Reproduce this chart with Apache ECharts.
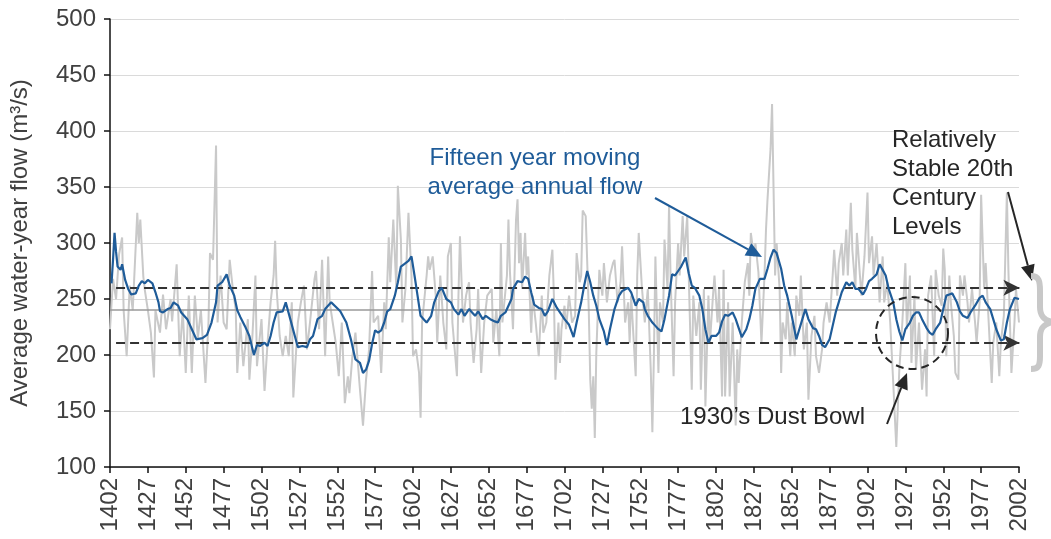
<!DOCTYPE html>
<html>
<head>
<meta charset="utf-8">
<script src="https://cdn.jsdelivr.net/npm/echarts@6/dist/echarts.min.js"></script>
<style>
  html, body { margin: 0; padding: 0; background: #fff; }
  #main { width: 1051px; height: 539px; }
</style>
</head>
<body>
<div id="main"></div>
<script>
// reconstructed annual water-year flow, [year, m3/s]
const annualFlow = [
  [1402, 223], [1404, 268], [1406, 250], [1408, 290], [1410, 305], [1411, 240], [1413, 199], [1415, 262],
  [1417, 240], [1420, 327], [1421, 300], [1422, 321], [1424, 270], [1425, 258], [1427, 240], [1429, 220],
  [1431, 180], [1432, 240], [1435, 220], [1437, 254], [1439, 223], [1442, 250], [1443, 230], [1446, 281],
  [1448, 199], [1450, 240], [1452, 184], [1454, 253], [1456, 184], [1458, 253], [1460, 215], [1462, 240],
  [1465, 175], [1467, 229], [1468, 291], [1470, 285], [1472, 387], [1473, 229], [1475, 271], [1477, 229],
  [1479, 223], [1481, 285], [1483, 260], [1485, 240], [1486, 184], [1488, 229], [1490, 190], [1493, 232],
  [1494, 178], [1496, 217], [1498, 271], [1499, 190], [1502, 232], [1504, 168], [1506, 211], [1508, 247],
  [1510, 271], [1511, 302], [1512, 259], [1514, 217], [1516, 199], [1518, 217], [1520, 199], [1522, 247],
  [1523, 162], [1526, 229], [1528, 247], [1530, 262], [1532, 205], [1534, 229], [1537, 268], [1538, 275],
  [1540, 223], [1542, 285], [1544, 199], [1546, 288], [1547, 247], [1549, 229], [1551, 211], [1553, 181],
  [1555, 229], [1557, 157], [1559, 181], [1560, 166], [1562, 199], [1564, 220], [1567, 169], [1569, 137],
  [1571, 178], [1573, 205], [1575, 275], [1576, 229], [1579, 235], [1581, 184], [1583, 247], [1584, 223],
  [1586, 305], [1587, 265], [1589, 321], [1591, 259], [1592, 351], [1594, 303], [1595, 229], [1597, 259],
  [1599, 327], [1601, 271], [1602, 199], [1604, 205], [1606, 184], [1607, 144], [1608, 229], [1611, 271],
  [1612, 288], [1613, 276], [1615, 288], [1617, 253], [1618, 211], [1620, 271], [1622, 229], [1624, 205],
  [1625, 288], [1627, 300], [1628, 229], [1631, 181], [1632, 253], [1633, 306], [1635, 229], [1637, 253],
  [1639, 265], [1640, 229], [1642, 193], [1644, 223], [1645, 259], [1647, 184], [1649, 229], [1651, 253],
  [1654, 259], [1655, 211], [1657, 241], [1659, 199], [1660, 300], [1661, 229], [1664, 271], [1665, 321],
  [1666, 274], [1668, 223], [1670, 321], [1671, 339], [1672, 282], [1673, 309], [1674, 259], [1676, 309],
  [1677, 271], [1678, 288], [1680, 220], [1681, 253], [1683, 229], [1685, 199], [1687, 253], [1688, 220],
  [1690, 229], [1692, 271], [1694, 294], [1695, 253], [1696, 178], [1698, 229], [1699, 193], [1700, 223],
  [1702, 244], [1703, 223], [1705, 253], [1707, 229], [1709, 235], [1710, 291], [1712, 265], [1713, 271],
  [1714, 329], [1716, 324], [1718, 241], [1719, 178], [1720, 152], [1721, 181], [1722, 126], [1723, 202],
  [1725, 276], [1727, 253], [1728, 282], [1730, 247], [1732, 271], [1734, 282], [1735, 285], [1737, 247],
  [1739, 265], [1740, 297], [1742, 229], [1744, 247], [1745, 211], [1746, 253], [1749, 181], [1750, 271],
  [1751, 309], [1753, 262], [1755, 229], [1757, 259], [1759, 184], [1760, 131], [1761, 199], [1762, 288],
  [1764, 184], [1765, 247], [1767, 229], [1768, 303], [1770, 259], [1771, 333], [1772, 271], [1774, 181],
  [1775, 247], [1777, 300], [1778, 271], [1780, 324], [1781, 288], [1783, 324], [1784, 271], [1786, 169],
  [1787, 253], [1789, 217], [1791, 247], [1792, 169], [1794, 259], [1795, 154], [1797, 253], [1798, 211],
  [1800, 253], [1801, 271], [1803, 229], [1804, 259], [1806, 163], [1807, 276], [1808, 163], [1810, 247],
  [1811, 163], [1813, 229], [1815, 137], [1816, 205], [1817, 175], [1819, 229], [1821, 265], [1823, 282],
  [1824, 253], [1825, 309], [1827, 288], [1828, 300], [1830, 274], [1832, 211], [1834, 271], [1835, 312],
  [1836, 339], [1838, 384], [1839, 424], [1840, 348], [1841, 271], [1842, 300], [1844, 259], [1845, 184],
  [1846, 229], [1848, 214], [1849, 247], [1851, 199], [1852, 229], [1854, 199], [1855, 253], [1857, 235],
  [1858, 271], [1860, 205], [1862, 229], [1863, 160], [1865, 217], [1867, 235], [1868, 199], [1870, 184],
  [1872, 205], [1873, 229], [1875, 247], [1877, 229], [1879, 271], [1880, 294], [1882, 253], [1883, 282],
  [1885, 300], [1886, 271], [1888, 312], [1889, 271], [1891, 336], [1892, 294], [1894, 259], [1895, 309],
  [1897, 271], [1898, 253], [1900, 288], [1902, 345], [1903, 282], [1905, 306], [1906, 271], [1908, 300],
  [1909, 276], [1910, 247], [1912, 288], [1913, 247], [1915, 265], [1917, 229], [1919, 175], [1920, 146],
  [1921, 118], [1923, 187], [1925, 229], [1927, 282], [1928, 223], [1930, 271], [1931, 193], [1933, 253],
  [1934, 187], [1936, 229], [1938, 169], [1940, 205], [1941, 163], [1942, 253], [1944, 271], [1946, 199],
  [1947, 276], [1949, 253], [1951, 244], [1952, 295], [1953, 276], [1954, 199], [1956, 271], [1957, 247],
  [1959, 217], [1960, 184], [1962, 178], [1963, 271], [1965, 253], [1966, 271], [1968, 247], [1969, 229],
  [1971, 259], [1973, 229], [1974, 211], [1976, 247], [1977, 343], [1979, 259], [1980, 282], [1982, 229],
  [1984, 175], [1985, 211], [1987, 229], [1989, 181], [1990, 211], [1992, 235], [1994, 345], [1995, 276],
  [1997, 184], [1999, 229], [2000, 259], [2002, 229]
];

// fifteen year moving average, [year, m3/s]
const movingAvg = [
  [1403, 264], [1404, 285], [1405, 309], [1406, 292], [1407, 279], [1409, 276], [1410, 281], [1412, 267],
  [1414, 259], [1416, 254], [1419, 255], [1421, 262], [1423, 266], [1425, 264], [1427, 267], [1430, 264],
  [1432, 256], [1434, 247], [1435, 239], [1437, 238], [1440, 241], [1442, 242], [1444, 247], [1447, 244],
  [1449, 238], [1453, 232], [1456, 223], [1459, 214], [1463, 215], [1466, 218], [1469, 229], [1472, 247],
  [1473, 262], [1476, 265], [1479, 272], [1481, 262], [1484, 253], [1486, 240], [1488, 234], [1491, 226],
  [1494, 217], [1497, 200], [1499, 209], [1501, 208], [1504, 211], [1506, 208], [1508, 217], [1510, 229],
  [1512, 238], [1516, 239], [1518, 247], [1521, 232], [1524, 217], [1526, 207], [1529, 208], [1532, 207],
  [1534, 214], [1536, 217], [1539, 232], [1542, 235], [1544, 241], [1548, 247], [1551, 243], [1554, 239],
  [1558, 229], [1561, 214], [1564, 196], [1567, 193], [1569, 184], [1571, 187], [1573, 195], [1575, 210],
  [1577, 222], [1579, 220], [1581, 222], [1583, 229], [1585, 239], [1587, 241], [1590, 253], [1592, 265],
  [1594, 279], [1596, 281], [1599, 284], [1601, 288], [1603, 271], [1605, 253], [1607, 235], [1609, 232],
  [1611, 229], [1614, 235], [1616, 247], [1619, 257], [1621, 260], [1624, 250], [1627, 247], [1629, 241],
  [1632, 236], [1634, 241], [1636, 235], [1639, 241], [1641, 238], [1643, 235], [1645, 239], [1648, 232],
  [1650, 235], [1653, 232], [1656, 230], [1658, 229], [1660, 235], [1663, 238], [1665, 244], [1667, 250],
  [1668, 259], [1671, 266], [1674, 265], [1676, 270], [1678, 268], [1680, 256], [1682, 245], [1685, 242],
  [1687, 241], [1689, 235], [1691, 239], [1694, 250], [1697, 242], [1699, 238], [1702, 232], [1705, 227],
  [1708, 216], [1710, 229], [1713, 247], [1715, 262], [1717, 275], [1719, 265], [1721, 253], [1723, 244],
  [1725, 232], [1728, 221], [1730, 209], [1732, 223], [1735, 241], [1738, 253], [1740, 257], [1744, 260],
  [1746, 256], [1749, 244], [1751, 250], [1754, 247], [1755, 241], [1757, 235], [1760, 229], [1762, 226],
  [1764, 223], [1766, 221], [1768, 232], [1771, 253], [1773, 272], [1775, 271], [1777, 275], [1779, 279],
  [1782, 287], [1784, 273], [1786, 262], [1788, 260], [1791, 253], [1793, 241], [1795, 223], [1797, 211],
  [1799, 217], [1802, 217], [1804, 220], [1806, 230], [1808, 236], [1810, 235], [1813, 238], [1815, 232],
  [1817, 224], [1819, 216], [1822, 223], [1824, 232], [1826, 244], [1828, 259], [1831, 268], [1834, 268],
  [1836, 277], [1838, 287], [1840, 294], [1842, 291], [1845, 277], [1847, 262], [1849, 253], [1852, 235],
  [1855, 214], [1857, 223], [1859, 232], [1861, 241], [1863, 232], [1866, 224], [1868, 223], [1870, 217],
  [1872, 209], [1874, 207], [1877, 214], [1879, 226], [1881, 238], [1883, 247], [1885, 256], [1888, 265],
  [1890, 262], [1892, 265], [1894, 259], [1896, 259], [1899, 254], [1901, 259], [1903, 266], [1905, 268],
  [1908, 272], [1910, 281], [1912, 276], [1914, 271], [1916, 259], [1919, 247], [1921, 232], [1923, 221],
  [1925, 213], [1927, 223], [1930, 229], [1932, 235], [1934, 238], [1936, 238], [1938, 232], [1941, 224],
  [1943, 220], [1945, 218], [1947, 223], [1950, 229], [1952, 241], [1954, 253], [1956, 254], [1958, 255],
  [1961, 247], [1963, 239], [1965, 235], [1968, 233], [1970, 238], [1973, 244], [1976, 251], [1978, 253],
  [1980, 247], [1983, 241], [1985, 232], [1987, 223], [1990, 213], [1992, 214], [1994, 229], [1996, 241],
  [1999, 251], [2002, 250]
];

const startYear = 1402
const endYear = 2002
const yTicks = [100, 150, 200, 250, 300, 350, 400, 450, 500]
const meanFlow = 240
const upperLevel = 260
const lowerLevel = 211

const FONT = "'Liberation Sans', Arial, sans-serif"
const BLUE = '#1f5c99'
const INK = '#262626'

// arrow = line + filled head, pixel positions for annotations
function arrow(x1, y1, x2, y2, color) {
  const a = Math.atan2(y2 - y1, x2 - x1)
  const L = 16, W = 7
  const bx = x2 - L * Math.cos(a), by = y2 - L * Math.sin(a)
  return [
    { type: 'line', shape: { x1: x1, y1: y1, x2: bx, y2: by }, style: { stroke: color, lineWidth: 2 }, z: 10 },
    {
      type: 'polygon',
      shape: { points: [[x2, y2], [bx + W * Math.sin(a), by - W * Math.cos(a)], [bx - W * Math.sin(a), by + W * Math.cos(a)]] },
      style: { fill: color },
      z: 10
    }
  ]
}

// curly brace on the right, built from curves
function brace(color) {
  const s = { fill: 'none', stroke: color, lineWidth: 6 }
  const segs = [
    { type: 'bezierCurve', shape: { x1: 1031, y1: 276, cpx1: 1039, cpy1: 276, cpx2: 1040, cpy2: 281, x2: 1040, y2: 291 } },
    { type: 'line', shape: { x1: 1040, y1: 291, x2: 1040, y2: 307 } },
    { type: 'bezierCurve', shape: { x1: 1040, y1: 307, cpx1: 1040, cpy1: 316, cpx2: 1044, cpy2: 320, x2: 1052, y2: 322 } },
    { type: 'bezierCurve', shape: { x1: 1052, y1: 322, cpx1: 1044, cpy1: 324, cpx2: 1040, cpy2: 328, x2: 1040, y2: 337 } },
    { type: 'line', shape: { x1: 1040, y1: 337, x2: 1040, y2: 356 } },
    { type: 'bezierCurve', shape: { x1: 1040, y1: 356, cpx1: 1040, cpy1: 365, cpx2: 1039, cpy2: 369, x2: 1031, y2: 369 } }
  ]
  return segs.map((g) => Object.assign(g, { style: s, z: 10 }))
}

const toX = (p) => [p[0] - startYear, p[1]]

const chart = echarts.init(document.getElementById('main'))

const option = {
  animation: false,
  textStyle: { fontFamily: FONT },
  grid: [
    { left: 110, right: 32, top: 19, bottom: 72, outerBoundsMode: 'none', containLabel: false },
    // wider twin grid so the level lines can run past the axis end
    { left: 110, right: 21, top: 19, bottom: 72, outerBoundsMode: 'none', containLabel: false }
  ],
  xAxis: [
    {
      type: 'value',
      min: 0,
      max: endYear - startYear,
      interval: 25,
      axisLine: { lineStyle: { color: '#111', width: 1.5 } },
      axisTick: { length: 6, lineStyle: { color: '#111', width: 1.5 } },
      axisLabel: {
        rotate: 90,
        fontSize: 24,
        color: '#404040',
        margin: 11,
        formatter: (v) => String(startYear + v)
      },
      splitLine: { show: false }
    },
    { type: 'value', gridIndex: 1, min: 0, max: 607, show: false }
  ],
  yAxis: [
    {
      type: 'value',
      min: yTicks[0],
      max: yTicks[yTicks.length - 1],
      interval: 50,
      name: 'Average water-year flow (m³/s)',
      nameLocation: 'middle',
      nameGap: 78,
      nameTextStyle: { fontSize: 24, color: '#404040' },
      axisLine: { show: true, lineStyle: { color: '#111', width: 1.5 } },
      axisTick: { show: true, length: 6, lineStyle: { color: '#111', width: 1.5 } },
      axisLabel: { fontSize: 24, color: '#404040', margin: 14 },
      splitLine: { lineStyle: { color: '#dadada', width: 1 } }
    },
    { type: 'value', gridIndex: 1, min: yTicks[0], max: yTicks[yTicks.length - 1], show: false }
  ],
  series: [
    {
      name: 'Annual flow',
      type: 'line',
      data: annualFlow.map(toX),
      showSymbol: false,
      lineStyle: { color: '#c9c9c9', width: 2 },
      z: 2,
      markLine: {
        silent: true,
        symbol: 'none',
        label: { show: false },
        lineStyle: { color: '#9a9a9a', width: 1.5, type: 'solid' },
        data: [{ yAxis: meanFlow }]
      }
    },
    {
      name: 'Levels',
      type: 'line',
      xAxisIndex: 1,
      yAxisIndex: 1,
      data: [],
      z: 4,
      markLine: {
        silent: true,
        symbol: ['none', 'arrow'],
        symbolSize: [12, 16],
        label: { show: false },
        lineStyle: { color: '#333', width: 2, type: [9, 5] },
        data: [
          [{ coord: [4, upperLevel] }, { coord: [600, upperLevel] }],
          [{ coord: [4, lowerLevel] }, { coord: [600, lowerLevel] }]
        ]
      }
    },
    {
      name: 'Fifteen year moving average',
      type: 'line',
      data: movingAvg.map(toX),
      showSymbol: false,
      lineStyle: { color: BLUE, width: 2.2 },
      z: 5
    }
  ],
  graphic: [
    {
      type: 'text',
      style: {
        text: 'Fifteen year moving\naverage annual flow',
        x: 535, y: 144,
        textAlign: 'center',
        textVerticalAlign: 'top',
        font: '24px ' + FONT,
        lineHeight: 29,
        fill: BLUE
      },
      z: 10
    },
    ...arrow(655, 198, 762, 257, BLUE),
    {
      type: 'text',
      style: {
        text: 'Relatively\nStable 20th\nCentury\nLevels',
        x: 892, y: 126,
        textAlign: 'left',
        textVerticalAlign: 'top',
        font: '24px ' + FONT,
        lineHeight: 29,
        fill: INK
      },
      z: 10
    },
    ...arrow(1008, 192, 1032, 281, INK),
    {
      type: 'text',
      style: {
        text: '1930’s Dust Bowl',
        x: 680, y: 417,
        textAlign: 'left',
        textVerticalAlign: 'middle',
        font: '24px ' + FONT,
        fill: INK
      },
      z: 10
    },
    ...arrow(887, 424, 907, 373, INK),
    {
      type: 'circle',
      shape: { cx: 912, cy: 333, r: 36 },
      style: { fill: 'none', stroke: INK, lineWidth: 2, lineDash: [8, 5] },
      z: 10
    },
    ...brace('#c8c8c8')
  ]
}

chart.setOption(option)
</script>
</body>
</html>
